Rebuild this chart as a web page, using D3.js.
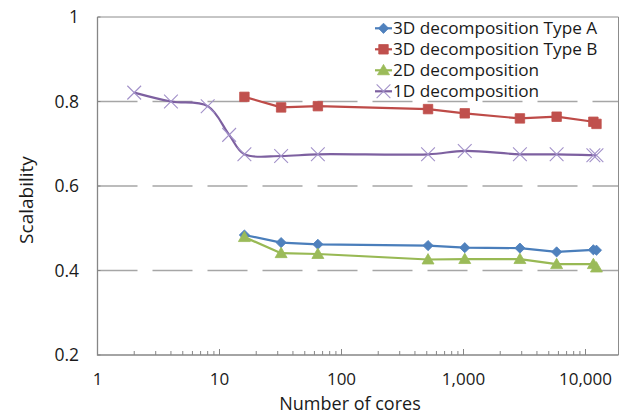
<!DOCTYPE html>
<html>
<head>
<meta charset="utf-8">
<script src="https://cdn.jsdelivr.net/npm/d3@7"></script>
<style>
  body { margin: 0; background: #fff; }
  text { font-family: "Open Sans", sans-serif; fill: #1a1a1a; }
</style>
</head>
<body>
<div id="chart-container" style="width:626px;height:415px;"></div>
<script>
// Values
const cores = [16, 32, 64, 512, 1024, 2900, 5800, 11600, 12300];
const cores1D = [2, 4, 8, 12, 16, 32, 64, 512, 1024, 2900, 5800, 11600, 12300];
const typeA = [0.484, 0.466, 0.462, 0.459, 0.454, 0.453, 0.444, 0.449, 0.448];
const typeB = [0.811, 0.786, 0.789, 0.782, 0.772, 0.760, 0.764, 0.752, 0.747];
const twoD = [0.479, 0.441, 0.439, 0.426, 0.427, 0.427, 0.415, 0.415, 0.407];
const oneD = [0.821, 0.800, 0.789, 0.721, 0.675, 0.671, 0.675, 0.675, 0.683, 0.675, 0.675, 0.673, 0.673];
const seriesNames = ["3D decomposition Type A", "3D decomposition Type B", "2D decomposition", "1D decomposition"];
const yTicks = [0.2, 0.4, 0.6, 0.8, 1];
const xTicks = [1, 10, 100, 1000, 10000];

const width = 626, height = 415;
const plotLeft = 97.5, plotRight = 618.5, plotTop = 17, plotBottom = 355;
const decade = 122;

const svg = d3.select("#chart-container")
    .append("svg")
    .attr("width", width)
    .attr("height", height);

const x = d3.scaleLog().domain([1, 10000]).range([plotLeft, plotLeft + 4 * decade]);
const y = d3.scaleLinear().domain([0.2, 1]).range([plotBottom, plotTop]);

// dashed gridlines
svg.append("g")
    .selectAll("line")
    .data(yTicks.filter(d => d > 0.2 && d < 1))
    .join("line")
    .attr("x1", plotLeft).attr("x2", plotRight)
    .attr("y1", d => y(d)).attr("y2", d => y(d))
    .attr("stroke", "#a6a6a6")
    .attr("stroke-width", 1.5)
    .attr("stroke-dasharray", "40,15");

// plot frame
svg.append("path")
    .attr("d", `M${plotLeft},${plotTop}H${plotRight}V${plotBottom}`)
    .attr("fill", "none")
    .attr("stroke", "#8c8c8c")
    .attr("stroke-width", 1);
svg.append("path")
    .attr("d", `M${plotLeft},${plotTop}V${plotBottom}H${plotRight}`)
    .attr("fill", "none")
    .attr("stroke", "#868686")
    .attr("stroke-width", 1.3);

// y ticks and labels
svg.append("g")
    .selectAll("line")
    .data(yTicks)
    .join("line")
    .attr("x1", plotLeft).attr("x2", plotLeft + 3)
    .attr("y1", d => y(d)).attr("y2", d => y(d))
    .attr("stroke", "#868686");

svg.append("g")
    .attr("text-anchor", "end")
    .style("font-size", "17.5px")
    .selectAll("text")
    .data(yTicks)
    .join("text")
    .attr("x", 79)
    .attr("y", d => y(d))
    .attr("dy", "0.35em")
    .text(d => d3.format("~g")(d));

// x ticks: minor and major
const minor = [];
xTicks.forEach(d => {
    for (let k = 2; k <= 9; k++) if (x(d * k) < plotRight) minor.push(d * k);
});
svg.append("g")
    .selectAll("line")
    .data(minor)
    .join("line")
    .attr("x1", d => x(d)).attr("x2", d => x(d))
    .attr("y1", plotBottom).attr("y2", plotBottom - 4)
    .attr("stroke", "#868686");
svg.append("g")
    .selectAll("line")
    .data(xTicks.slice(1))
    .join("line")
    .attr("x1", d => x(d)).attr("x2", d => x(d))
    .attr("y1", plotBottom).attr("y2", plotBottom - 6)
    .attr("stroke", "#868686");

svg.append("g")
    .attr("text-anchor", "middle")
    .style("font-size", "17px")
    .selectAll("text")
    .data(xTicks)
    .join("text")
    .attr("x", d => x(d))
    .attr("y", 379.5)
    .attr("dy", "0.35em")
    .text(d => d3.format(",")(d));

// axis titles
svg.append("text")
    .attr("text-anchor", "middle")
    .style("font-size", "18px")
    .attr("x", 350)
    .attr("y", 409.5)
    .text("Number of cores");

svg.append("text")
    .attr("text-anchor", "middle")
    .style("font-size", "19px")
    .attr("transform", "translate(26,200) rotate(-90)")
    .attr("dy", "0.35em")
    .text("Scalability");

// series
const series = [
    { name: seriesNames[0], xs: cores, ys: typeA, color: "#4a7ebb", mark: "#4f81bd", symbol: "diamond", curve: d3.curveLinear },
    { name: seriesNames[1], xs: cores, ys: typeB, color: "#be4b48", mark: "#c0504d", symbol: "square", curve: d3.curveLinear },
    { name: seriesNames[2], xs: cores, ys: twoD, color: "#98b954", mark: "#9bbb59", symbol: "triangle", curve: d3.curveLinear },
    { name: seriesNames[3], xs: cores1D, ys: oneD, color: "#7d60a0", mark: "#a291c9", symbol: "x", curve: d3.curveCatmullRom }
];

function drawMarker(g, s) {
    if (s.symbol === "diamond") {
        g.append("path").attr("d", d3.symbol(d3.symbolSquare, 52)()).attr("transform", "rotate(45)")
            .attr("fill", s.mark).attr("stroke", s.mark).attr("stroke-width", 0.8);
    } else if (s.symbol === "square") {
        g.append("path").attr("d", d3.symbol(d3.symbolSquare, 90)())
            .attr("fill", s.mark).attr("stroke", s.mark).attr("stroke-width", 0.8);
    } else if (s.symbol === "triangle") {
        g.append("path").attr("d", d3.symbol(d3.symbolTriangle, 62)()).attr("transform", "translate(0,1)")
            .attr("fill", s.mark).attr("stroke", s.mark).attr("stroke-width", 0.8);
    } else {
        g.append("path").attr("d", d3.symbol(d3.symbolX, 125)())
            .attr("fill", "none").attr("stroke", s.mark).attr("stroke-width", 1.1);
    }
}

series.forEach(s => {
    const pts = s.xs.map((c, i) => [x(c), y(s.ys[i])]);
    svg.append("path")
        .attr("d", d3.line().curve(s.curve)(pts))
        .attr("fill", "none")
        .attr("stroke", s.color)
        .attr("stroke-width", 2.2)
        .attr("stroke-linejoin", "round");
    pts.forEach(p => {
        const g = svg.append("g").attr("transform", `translate(${p[0]},${p[1]})`);
        drawMarker(g, s);
    });
});

// legend
const legendY = [28.3, 49.3, 70.3, 91.3];
series.forEach((s, i) => {
    const g = svg.append("g").attr("transform", `translate(375,${legendY[i]})`);
    g.append("line").attr("x1", 0).attr("x2", 17).attr("stroke", s.color).attr("stroke-width", 2.2);
    const m = g.append("g").attr("transform", "translate(8.5,0)");
    drawMarker(m, s);
    g.append("text")
        .attr("x", 18)
        .attr("dy", "0.35em")
        .style("font-size", "17.2px")
        .text(s.name);
});
</script>
</body>
</html>
